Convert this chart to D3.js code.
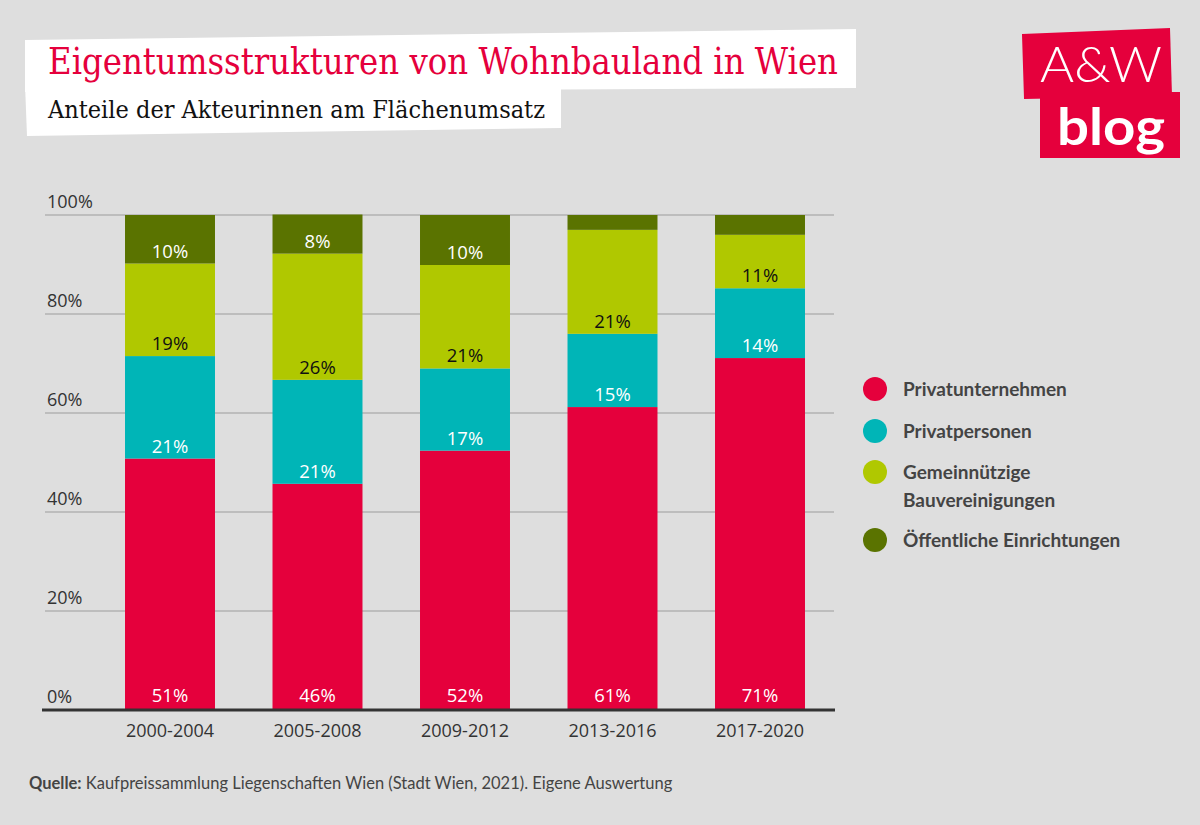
<!DOCTYPE html>
<html>
<head>
<meta charset="utf-8">
<script src="https://cdn.jsdelivr.net/npm/d3@7"></script>
<style>
  html, body { margin: 0; padding: 0; background: #dedede; }
  svg { display: block; }
</style>
</head>
<body>
<svg id="chart" width="1200" height="825"></svg>
<script>
// ---- data ----
const categories = ["2000-2004", "2005-2008", "2009-2012", "2013-2016", "2017-2020"];
const seriesNames = ["Privatunternehmen", "Privatpersonen", "Gemeinnützige Bauvereinigungen", "Öffentliche Einrichtungen"];
const privatunternehmen = [50.8, 45.7, 52.4, 61.2, 71.1];
const privatpersonen = [20.7, 21.0, 16.6, 14.8, 14.1];
const gemeinnuetzige = [18.7, 25.5, 20.9, 21.0, 10.8];
const oeffentliche = [9.8, 7.9, 10.1, 3.0, 4.0];
const yTicks = [0, 20, 40, 60, 80, 100];
const title = "Eigentumsstrukturen von Wohnbauland in Wien";
const subtitle = "Anteile der Akteurinnen am Flächenumsatz";
const sourceLabel = "Quelle:";
const sourceText = " Kaufpreissammlung Liegenschaften Wien (Stadt Wien, 2021). Eigene Auswertung";

const colors = ["#e5003c", "#00b5b7", "#b0c800", "#5a7300"];
const labelColors = ["#ffffff", "#ffffff", "#111111", "#ffffff"];

const seriesValues = [privatunternehmen, privatpersonen, gemeinnuetzige, oeffentliche];
const rows = categories.map((c, i) => {
  const r = { cat: c };
  seriesNames.forEach((s, k) => r[s] = seriesValues[k][i]);
  return r;
});

const svg = d3.select("#chart");
svg.append("rect").attr("width", 1200).attr("height", 825).attr("fill", "#dedede");

// ---- title boxes ----
svg.append("polygon").attr("points", "25,40 856,29 856,88 25,92").attr("fill", "#fff");
svg.append("polygon").attr("points", "25,84 561,84 561,128 27,136").attr("fill", "#fff");
svg.append("text").attr("x", 48).attr("y", 74)
  .attr("font-family", "'DejaVu Serif', serif").attr("font-size", 37)
  .attr("fill", "#e5003c").attr("textLength", 790).attr("lengthAdjust", "spacingAndGlyphs")
  .text(title);
svg.append("text").attr("x", 48).attr("y", 118)
  .attr("font-family", "'DejaVu Serif', serif").attr("font-size", 25)
  .attr("fill", "#111").attr("textLength", 497).attr("lengthAdjust", "spacingAndGlyphs")
  .text(subtitle);

// ---- logo ----
const logo = svg.append("g");
logo.append("polygon").attr("points", "1022,34 1170,28 1172,96 1024,99").attr("fill", "#e5003c");
logo.append("polygon").attr("points", "1040,92 1180,92 1180,158 1040,158").attr("fill", "#e5003c");
logo.append("text").attr("x", 1101).attr("y", 82).attr("text-anchor", "middle")
  .attr("font-family", "Lato, sans-serif").attr("font-weight", 300).attr("font-size", 50)
  .attr("fill", "#fff").attr("textLength", 122).attr("lengthAdjust", "spacingAndGlyphs").text("A&W");
logo.append("text").attr("x", 1111).attr("y", 145).attr("text-anchor", "middle")
  .attr("font-family", "Lato, sans-serif").attr("font-weight", 700).attr("font-size", 52)
  .attr("fill", "#fff").attr("textLength", 108).attr("lengthAdjust", "spacingAndGlyphs").text("blog");

// ---- scales ----
const x = d3.scaleBand().domain(categories).range([96.25, 833.75]).paddingInner(0.39).paddingOuter(0.195);
const y = d3.scaleLinear().domain([0, 100]).range([710, 215]);

const font = "'Open Sans', sans-serif";

// gridlines & tick labels
const grid = svg.append("g");
grid.selectAll("line").data(yTicks.filter(t => t > 0)).join("line")
  .attr("x1", 45).attr("x2", 834).attr("y1", d => y(d)).attr("y2", d => y(d))
  .attr("stroke", "#bdbdbd").attr("stroke-width", 2);
grid.selectAll("text").data(yTicks).join("text")
  .attr("x", 47).attr("y", d => y(d) - 7)
  .attr("font-family", font).attr("font-size", 18).attr("fill", "#333")
  .text(d => d + "%");

// stacked bars
const stack = d3.stack().keys(seriesNames)(rows);
const layers = svg.append("g").selectAll("g").data(stack).join("g")
  .attr("fill", (d, i) => colors[i]);
layers.selectAll("rect").data(d => d).join("rect")
  .attr("x", d => x(d.data.cat)).attr("width", x.bandwidth())
  .attr("y", d => y(d[1])).attr("height", d => y(d[0]) - y(d[1]));

// labels
stack.forEach((layer, i) => {
  svg.append("g").selectAll("text").data(layer.filter(d => d[1] - d[0] >= 5)).join("text")
    .attr("x", d => x(d.data.cat) + x.bandwidth() / 2)
    .attr("y", d => y(d[0]) - (i === 0 ? 8 : 6))
    .attr("text-anchor", "middle").attr("font-family", font).attr("font-size", 18.5)
    .attr("fill", labelColors[i])
    .text(d => Math.round(d[1] - d[0]) + "%");
});

// x axis
svg.append("line").attr("x1", 42).attr("x2", 835).attr("y1", 710).attr("y2", 710)
  .attr("stroke", "#333").attr("stroke-width", 3);
svg.append("g").selectAll("text").data(categories).join("text")
  .attr("x", d => x(d) + x.bandwidth() / 2).attr("y", 737)
  .attr("text-anchor", "middle").attr("font-family", font).attr("font-size", 18).attr("fill", "#333")
  .text(d => d);

// legend
const legendLines = [["Privatunternehmen"], ["Privatpersonen"], ["Gemeinnützige", "Bauvereinigungen"], ["Öffentliche Einrichtungen"]];
const legendY = [389, 431, 472, 540];
const lg = svg.append("g").selectAll("g").data(seriesNames).join("g")
  .attr("transform", (d, i) => `translate(875,${legendY[i]})`);
lg.append("circle").attr("r", 12).attr("fill", (d, i) => colors[i]);
lg.append("text").attr("x", 28).attr("y", 7)
  .attr("font-family", "Lato, sans-serif").attr("font-weight", 700).attr("font-size", 19).attr("fill", "#444")
  .selectAll("tspan").data((d, i) => legendLines[i]).join("tspan")
  .attr("x", 28).attr("dy", (d, j) => j === 0 ? 0 : 28).text(d => d);

// source
const src = svg.append("text").attr("x", 29).attr("y", 789)
  .attr("font-family", "Lato, sans-serif").attr("font-size", 16.5).attr("fill", "#444");
src.append("tspan").attr("font-weight", 700).text(sourceLabel);
src.append("tspan").text(sourceText);
</script>
</body>
</html>
